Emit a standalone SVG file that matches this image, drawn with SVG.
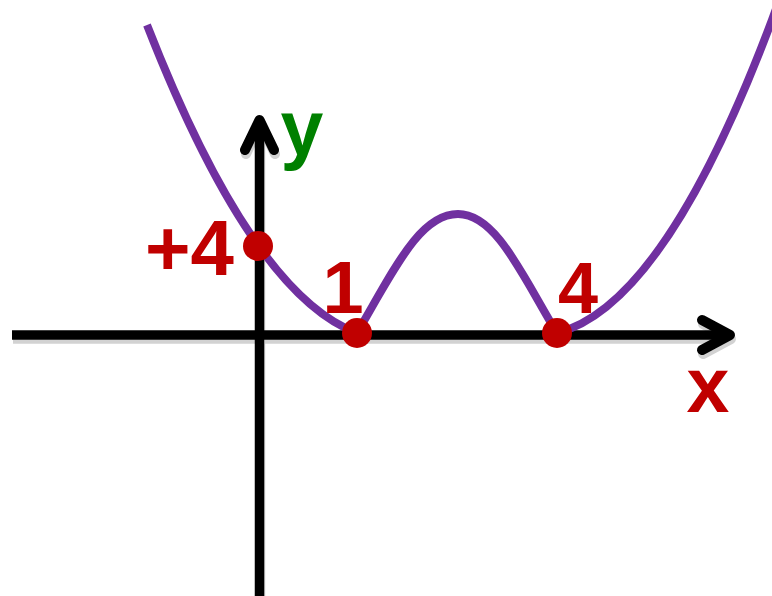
<svg xmlns="http://www.w3.org/2000/svg" width="772" height="596" viewBox="0 0 772 596">
<style>
.ax{fill:none;stroke:#000;stroke-width:10;stroke-linecap:round;stroke-linejoin:round}
.axl{fill:none;stroke:#000;stroke-width:9.5}
.sh{fill:none;stroke:#d2d2d2;stroke-width:10;stroke-linecap:round;stroke-linejoin:round}
.shl{fill:none;stroke:#d2d2d2;stroke-width:9.5}
.cv{fill:none;stroke:#7030A0;stroke-width:8}
.pt{fill:#C00000}
.lb{font-family:"Liberation Sans",Arial,sans-serif;font-weight:bold;fill:#C00000}
</style>
<rect width="772" height="596" fill="#fff"/>
<g id="axes-shadow" transform="translate(1,4)">
<line class="shl" x1="12" y1="335" x2="728" y2="335"/>
<line class="shl" x1="259.5" y1="122" x2="259.5" y2="600"/>
<polyline class="sh" points="245,150 259.5,120 274,150"/>
<polyline class="sh" points="702,320 730,335 702,350"/>
</g>
<g id="connectors">
<line class="axl" x1="12" y1="335" x2="728" y2="335"/>
<line class="axl" x1="259.5" y1="122" x2="259.5" y2="600"/>
<polyline class="ax" points="245,150 259.5,120 274,150"/>
<polyline class="ax" points="702,320 730,335 702,350"/>
</g>
<g id="curve">
<path class="cv" d="M147,25 Q252,294 357,333"/>
<path class="cv" d="M357,333 C395,268 420,214 458,214 C496,214 522,275 557,333"/>
<path class="cv" d="M557,333 Q664.5,306 772,20 L776,9"/>
</g>
<g id="point-y4"><circle class="pt" cx="258" cy="246" r="15"/><text class="lb" x="234" y="275" font-size="78" text-anchor="end">+4</text></g>
<g id="point-x1"><circle class="pt" cx="357" cy="333" r="15"/><text class="lb" x="343" y="313" font-size="74" text-anchor="middle">1</text></g>
<g id="point-x4"><circle class="pt" cx="557" cy="333" r="15"/><text class="lb" x="578" y="313" font-size="72" text-anchor="middle">4</text></g>
<g id="label-x"><text class="lb" x="708" y="412" font-size="77" text-anchor="middle">x</text></g>
<g id="label-y"><text class="lb" x="302" y="155" font-size="77" text-anchor="middle" style="fill:#008000">y</text></g>
</svg>
